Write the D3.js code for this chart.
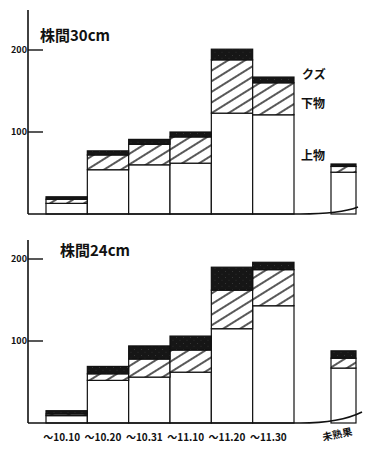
<!DOCTYPE html>
<html>
<head>
<meta charset="utf-8">
<script src="https://cdn.jsdelivr.net/npm/d3@7"></script>
<style>
  body { margin: 0; background: #fff; }
  text { font-family: "Noto Sans CJK JP", "DejaVu Sans", sans-serif; fill: #111; }
</style>
</head>
<body>
<svg width="366" height="450"></svg>
<script>
// harvest period and yield per grade
var periods = ["〜10.10", "〜10.20", "〜10.31", "〜11.10", "〜11.20", "〜11.30"];
var grades = ["上物", "下物", "クズ"];
var yTicks = [100, 200];

var jou30 = [13, 54, 60, 62, 123, 121];
var ge30 = [5, 18, 25, 32, 65, 39];
var kuzu30 = [3, 5, 6, 6, 13, 7];
var unripe30 = [51, 7, 3];

var jou24 = [9, 52, 56, 62, 115, 143];
var ge24 = [2, 8, 22, 27, 47, 44];
var kuzu24 = [4, 9, 16, 17, 28, 9];
var unripe24 = [67, 12, 9];

var svg = d3.select("svg");
var defs = svg.append("defs");

var hatch = defs.append("pattern")
    .attr("id", "hatch")
    .attr("patternUnits", "userSpaceOnUse")
    .attr("width", 9).attr("height", 9)
    .attr("patternTransform", "rotate(-32)");
hatch.append("rect").attr("width", 9).attr("height", 9).attr("fill", "#fff");
hatch.append("line")
    .attr("x1", 0).attr("y1", 1).attr("x2", 9).attr("y2", 1)
    .attr("stroke", "#111").attr("stroke-width", 1.4);

// speckled black for クズ
var speck = defs.append("pattern")
    .attr("id", "speck")
    .attr("patternUnits", "userSpaceOnUse")
    .attr("width", 7).attr("height", 6);
speck.append("rect").attr("width", 7).attr("height", 6).attr("fill", "#161616");
speck.append("circle").attr("cx", 1.5).attr("cy", 1.5).attr("r", 0.45).attr("fill", "#555");
speck.append("circle").attr("cx", 5, 5).attr("cy", 4.2).attr("r", 0.4).attr("fill", "#4a4a4a");

var fills = ["#fff", "url(#hatch)", "url(#speck)"];

var x = d3.scaleBand().domain(periods).range([46, 294]).padding(0);

function drawPanel(cfg) {
    var y = d3.scaleLinear().domain([0, 200]).range([cfg.base, cfg.base - 164]);
    var g = svg.append("g");

    var rows = periods.map(function(p, i) {
        return { period: p, values: [cfg.jou[i], cfg.ge[i], cfg.kuzu[i]] };
    });
    var stack = d3.stack().keys([0, 1, 2]).value(function(d, k) { return d.values[k]; });
    var layers = stack(rows);

    layers.forEach(function(layer, k) {
        g.selectAll(null)
            .data(layer)
            .enter()
            .append("rect")
            .attr("x", function(d) { return x(d.data.period); })
            .attr("width", x.bandwidth())
            .attr("y", function(d) { return y(d[1]); })
            .attr("height", function(d) { return y(d[0]) - y(d[1]); })
            .attr("fill", fills[k])
            .attr("stroke", "#111")
            .attr("stroke-width", 1.2);
    });

    // unripe fruit bar, set apart on the right
    var ux = x.range()[1] + 37;
    var uw = 25;
    var acc = 0;
    cfg.unripe.forEach(function(v, k) {
        g.append("rect")
            .attr("x", ux)
            .attr("width", uw)
            .attr("y", y(acc + v))
            .attr("height", y(acc) - y(acc + v))
            .attr("fill", fills[k])
            .attr("stroke", "#111")
            .attr("stroke-width", 1.2);
        acc += v;
    });

    // axis
    g.append("line")
        .attr("x1", 28).attr("x2", 28)
        .attr("y1", cfg.axisTop).attr("y2", cfg.base)
        .attr("stroke", "#111").attr("stroke-width", 1.6);
    g.selectAll(null)
        .data(yTicks)
        .enter()
        .append("line")
        .attr("x1", 28).attr("x2", 43)
        .attr("y1", function(d) { return y(d); })
        .attr("y2", function(d) { return y(d); })
        .attr("stroke", "#111").attr("stroke-width", 1.4);
    g.selectAll(null)
        .data(yTicks)
        .enter()
        .append("text")
        .attr("x", 27)
        .attr("y", function(d) { return y(d) + 3; })
        .attr("text-anchor", "end")
        .attr("font-size", 9)
        .attr("font-weight", "bold")
        .text(function(d) { return d; });

    // baseline curving up under the unripe bar
    g.append("path")
        .attr("d", "M28," + cfg.base + " L300," + cfg.base +
              " Q340," + cfg.base + " " + cfg.curveEnd[0] + "," + cfg.curveEnd[1])
        .attr("fill", "none")
        .attr("stroke", "#111").attr("stroke-width", 1.6);

    g.append("text")
        .attr("x", cfg.titleX).attr("y", cfg.titleY)
        .attr("font-size", 15)
        .attr("font-weight", "bold")
        .text(cfg.title);
    return y;
}

drawPanel({
    base: 214, axisTop: 10, curveEnd: [358, 207],
    jou: jou30, ge: ge30, kuzu: kuzu30, unripe: unripe30,
    title: "株間30cm", titleX: 40, titleY: 41
});

drawPanel({
    base: 423, axisTop: 240, curveEnd: [362, 412],
    jou: jou24, ge: ge24, kuzu: kuzu24, unripe: unripe24,
    title: "株間24cm", titleX: 60, titleY: 256
});

// grade labels beside the 11.30 bar of the upper panel
var labelPos = [{ x: 301, y: 160 }, { x: 301, y: 108 }, { x: 302, y: 79 }];
svg.selectAll(null)
    .data(grades)
    .enter()
    .append("text")
    .attr("x", function(d, i) { return labelPos[i].x; })
    .attr("y", function(d, i) { return labelPos[i].y; })
    .attr("font-size", 12)
    .attr("font-weight", "bold")
    .text(function(d) { return d; });

// period labels under the lower panel
svg.selectAll(null)
    .data(periods)
    .enter()
    .append("text")
    .attr("x", function(d) { return x(d) + x.bandwidth() / 2 - 5; })
    .attr("y", 441)
    .attr("text-anchor", "middle")
    .attr("font-size", 10)
    .attr("font-weight", "bold")
    .text(function(d) { return d; });

svg.append("text")
    .attr("x", 338).attr("y", 438)
    .attr("text-anchor", "middle")
    .attr("font-size", 10)
    .attr("font-weight", "bold")
    .attr("transform", "rotate(-12,338,438)")
    .text("未熟果");
</script>
</body>
</html>
